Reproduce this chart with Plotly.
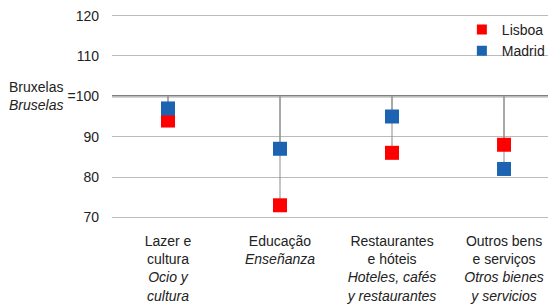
import plotly.graph_objects as go

categories = [
    "Lazer e<br>cultura<br><i>Ocio y<br>cultura</i>",
    "Educação<br><i>Enseñanza</i>",
    "Restaurantes<br>e hóteis<br><i>Hoteles, cafés<br>y restaurantes</i>",
    "Outros bens<br>e serviços<br><i>Otros bienes<br>y servicios</i>",
]
lisboa = [94, 73, 86, 88]
madrid = [97, 87, 95, 82]
base = 100
yticks = [70, 80, 90, 100, 110, 120]
yticktext = ["70", "80", "90", "=100", "110", "120"]

RED = "#ff0000"
BLUE = "#1c63b2"

xs = list(range(len(categories)))

fig = go.Figure()

# drop lines from the reference (100) to each value
for vals in (lisboa, madrid):
    lx, ly = [], []
    for x, v in zip(xs, vals):
        lx += [x, x, None]
        ly += [base, v, None]
    fig.add_trace(go.Scatter(x=lx, y=ly, mode="lines",
                             line=dict(color="rgba(140,140,140,0.5)", width=2),
                             showlegend=False, hoverinfo="skip"))

fig.add_trace(go.Scatter(x=xs, y=lisboa, mode="markers", name="Lisboa",
                         marker=dict(symbol="square", size=14, color=RED),
                         showlegend=False))
fig.add_trace(go.Scatter(x=xs, y=madrid, mode="markers", name="Madrid",
                         marker=dict(symbol="square", size=14, color=BLUE),
                         showlegend=False))
# legend entries with smaller swatches
fig.add_trace(go.Scatter(x=[None], y=[None], mode="markers", name="Lisboa",
                         marker=dict(symbol="square", size=10, color=RED)))
fig.add_trace(go.Scatter(x=[None], y=[None], mode="markers", name="Madrid",
                         marker=dict(symbol="square", size=10, color=BLUE)))

fig.add_hline(y=base, line=dict(color="#555555", width=2), layer="below")

fig.add_annotation(x=0, xref="paper", xanchor="right", xshift=-47,
                   y=base, yref="y", yanchor="middle",
                   text="Bruxelas<br><i>Bruselas</i>", showarrow=False,
                   align="right", font=dict(size=14, color="#222"))

fig.update_layout(
    width=548, height=297,
    margin=dict(l=104, r=0, t=6, b=86, autoexpand=False),
    paper_bgcolor="white", plot_bgcolor="white",
    font=dict(family="Liberation Sans, Arial, sans-serif", size=14, color="#222"),
    showlegend=True,
    legend=dict(x=0.788, y=1.0, xanchor="left", yanchor="top",
                bgcolor="rgba(0,0,0,0)", font=dict(size=14),
                itemwidth=30, tracegroupgap=0),
)
fig.update_xaxes(range=[-0.5, 3.464], tickvals=xs, ticktext=categories,
                 showgrid=False, zeroline=False, showline=False, ticks="",
                 tickangle=0, ticklabelstandoff=12, automargin=False,
                 ticklabeloverflow="allow")
fig.update_yaxes(range=[69.6, 120.4], tickvals=yticks, ticktext=yticktext,
                 showgrid=True, gridcolor="#bbbbbb", gridwidth=1,
                 zeroline=False, showline=False, ticks="",
                 ticklabelstandoff=12, automargin=False,
                 ticklabeloverflow="allow")

fig.write_html("out.html")
